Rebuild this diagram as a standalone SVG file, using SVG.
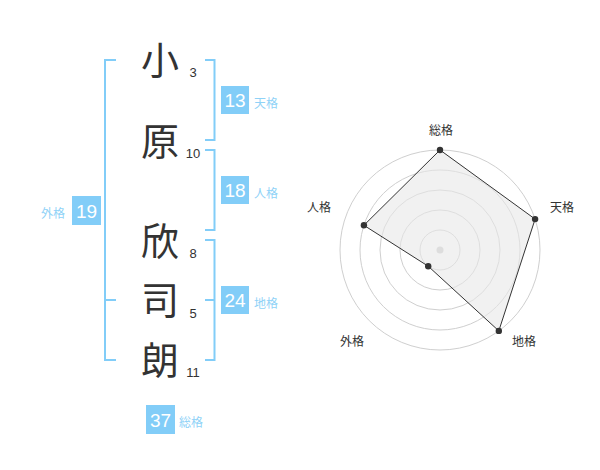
<svg xmlns="http://www.w3.org/2000/svg" width="600" height="470" viewBox="0 0 600 470">
<style>
.ch{font-family:"Noto Sans CJK JP","Noto Sans CJK SC",sans-serif;font-size:38px;fill:#333;text-anchor:middle}
.num{font-family:"Liberation Sans",Arial,sans-serif;font-size:13px;fill:#333;text-anchor:middle}
.box{fill:#82cdf8}
.bv{font-family:"Liberation Sans",Arial,sans-serif;font-size:19px;fill:#fff;text-anchor:middle}
.bl{font-family:"Noto Sans CJK JP","Noto Sans CJK SC",sans-serif;font-size:12px;fill:#8fd2f7}
.br{fill:none;stroke:#82cdf8;stroke-width:2}
.ring{fill:none;stroke:#cfcfcf;stroke-width:1}
.rl{font-family:"Noto Sans CJK JP","Noto Sans CJK SC",sans-serif;font-size:12px;fill:#333;text-anchor:middle}
.dot{fill:#333}
</style>
<rect width="600" height="470" fill="#fff"/>
<g id="connectors">
<path class="br" d="M116,60 H105 V360 H116 M105,300 H116"/>
<path class="br" d="M205,60 H214.5 V140 H205"/>
<path class="br" d="M205,150 H214.5 V230 H205"/>
<path class="br" d="M205,240 H214.5 V360 H205 M205,300 H214.5"/>
</g>
<g id="name">
<g id="c1"><text class="ch" x="160" y="74">小</text><text class="num" x="193" y="77">3</text></g>
<g id="c2"><text class="ch" x="160" y="155">原</text><text class="num" x="193" y="158">10</text></g>
<g id="c3"><text class="ch" x="160" y="255">欣</text><text class="num" x="193" y="258">8</text></g>
<g id="c4"><text class="ch" x="160" y="314">司</text><text class="num" x="193" y="318">5</text></g>
<g id="c5"><text class="ch" x="160" y="374">朗</text><text class="num" x="193" y="377">11</text></g>
</g>
<g id="tenkaku"><rect class="box" x="221" y="86" width="28" height="28"/><text class="bv" x="235" y="107">13</text><text class="bl" x="254" y="108">天格</text></g>
<g id="jinkaku"><rect class="box" x="221" y="176" width="28" height="28"/><text class="bv" x="235" y="197">18</text><text class="bl" x="254" y="198">人格</text></g>
<g id="chikaku"><rect class="box" x="221" y="286" width="28" height="28"/><text class="bv" x="235" y="307">24</text><text class="bl" x="254" y="308">地格</text></g>
<g id="gaikaku"><rect class="box" x="72" y="196" width="29" height="29"/><text class="bv" x="86.5" y="217.5">19</text><text class="bl" x="41" y="218">外格</text></g>
<g id="soukaku"><rect class="box" x="146" y="405" width="29" height="29"/><text class="bv" x="160.5" y="426.5">37</text><text class="bl" x="179" y="427">総格</text></g>
<g id="radar">
<circle class="ring" cx="440" cy="250" r="20"/>
<circle class="ring" cx="440" cy="250" r="40"/>
<circle class="ring" cx="440" cy="250" r="60"/>
<circle class="ring" cx="440" cy="250" r="80"/>
<circle class="ring" cx="440" cy="250" r="100"/>
<circle cx="440" cy="250" r="3.5" fill="#ccc"/>
<polygon points="440,150 535.1,219.1 498.8,330.9 428.2,266.2 363.9,225.3" fill="#e8e8e8" fill-opacity="0.6" stroke="#333" stroke-width="1"/>
<circle class="dot" cx="440" cy="150" r="3.2"/>
<circle class="dot" cx="535.1" cy="219.1" r="3.2"/>
<circle class="dot" cx="498.8" cy="330.9" r="3.2"/>
<circle class="dot" cx="428.2" cy="266.2" r="3.2"/>
<circle class="dot" cx="363.9" cy="225.3" r="3.2"/>
<text class="rl" x="441" y="135">総格</text>
<text class="rl" x="562" y="212">天格</text>
<text class="rl" x="524" y="346">地格</text>
<text class="rl" x="352" y="346">外格</text>
<text class="rl" x="319" y="212">人格</text>
</g>
</svg>
